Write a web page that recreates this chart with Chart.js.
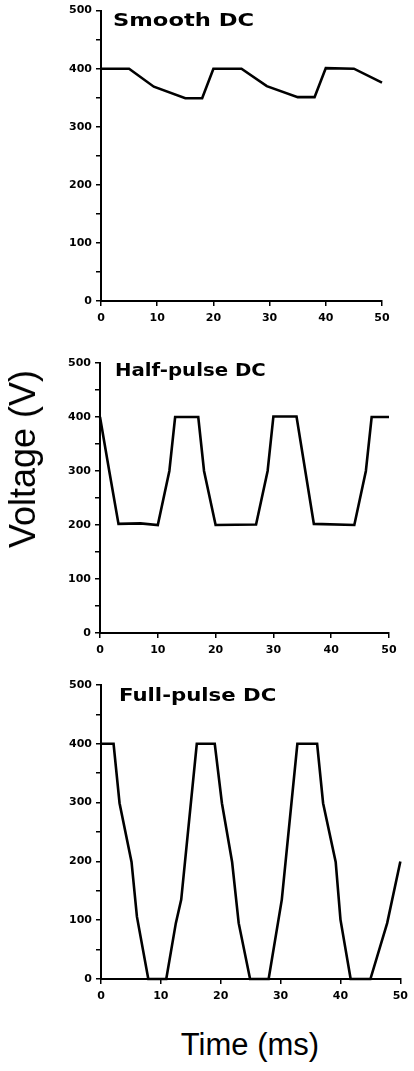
<!DOCTYPE html>
<html>
<head>
<meta charset="utf-8">
<script src="https://cdn.jsdelivr.net/npm/chart.js@4.4.1/dist/chart.umd.min.js"></script>
<style>
  body { margin: 0; background: #fff; width: 414px; height: 1071px; position: relative; overflow: hidden; }
  .panel { position: absolute; left: 0; width: 414px; }
  #ylab { position: absolute; left: 23px; top: 459px; transform: translate(-50%, -50%) rotate(-90deg);
          font: 36px "Liberation Sans", Arial, sans-serif; white-space: nowrap; color: #000; }
  #xlab { position: absolute; left: 250px; top: 1045px; transform: translate(-50%, -50%);
          font: 31px "Liberation Sans", Arial, sans-serif; white-space: nowrap; color: #000; }
</style>
</head>
<body>
<div class="panel" style="top:0;height:330px"><canvas id="chart-smooth"></canvas></div>
<div class="panel" style="top:330px;height:330px"><canvas id="chart-half"></canvas></div>
<div class="panel" style="top:660px;height:360px"><canvas id="chart-full"></canvas></div>
<div id="ylab">Voltage (V)</div>
<div id="xlab">Time (ms)</div>
<script>
// values: time in ms, voltage in V
var smoothTime = [0, 5, 9.4, 15, 18, 20, 25, 29.5, 35, 38, 40, 45, 50];
var smoothVolt = [400, 400, 369, 349, 349, 400, 400, 370, 351, 351, 401, 400, 376];

var halfTime = [0, 1.6, 3.2, 7, 10, 12, 13, 17, 18, 20, 27, 29, 30, 34, 37, 44, 46, 47, 50];
var halfVolt = [400, 300, 202, 203, 200, 300, 400, 400, 300, 200, 201, 300, 401, 401, 202, 200, 300, 400, 400];

var fullTime = [0, 2.1, 3.1, 5.1, 6, 7.9, 10.9, 12.5, 13.4, 16, 19, 20.2, 21.9, 23, 24.9, 28, 30.2, 32.8, 36.1, 37.1, 39.2, 40, 41.7, 45, 47.8, 50];
var fullVolt = [400, 400, 299, 199, 106, 0, 0, 95, 135, 400, 400, 299, 199, 95, 0, 0, 135, 400, 400, 299, 199, 101, 0, 0, 95, 200];

var timeTicks = [0, 10, 20, 30, 40, 50];
var voltTicks = [0, 100, 200, 300, 400, 500];

var titles = ['Smooth DC', 'Half-pulse DC', 'Full-pulse DC'];

var tickFont = { family: 'DejaVu Sans', weight: 'bold', size: 11 };

var toPoints = function (xs, ys) {
    var pts = [];
    for (var i = 0; i < xs.length; ++i) {
        pts.push({ x: xs[i], y: ys[i] });
    }
    return pts;
};

// panel title drawn inside the plot area, slightly stretched like the scan
var titlePlugin = {
    id: 'panelTitle',
    afterDraw: function (chart, args, opts) {
        var ctx = chart.ctx;
        var area = chart.chartArea;
        ctx.save();
        ctx.fillStyle = '#000';
        ctx.font = 'bold 17px "DejaVu Sans"';
        ctx.textBaseline = 'alphabetic';
        ctx.translate(area.left + opts.dx, area.top + opts.dy);
        ctx.scale(opts.sx, 1);
        ctx.fillText(opts.text, 0, 0);
        ctx.restore();
    }
};

var makeChart = function (id, xs, ys, title, box) {
    var ctx = document.getElementById(id);
    return new Chart(ctx, {
        type: 'line',
        data: {
            datasets: [{
                data: toPoints(xs, ys),
                borderColor: '#000',
                borderWidth: 2.6,
                pointRadius: 0,
                tension: 0,
                clip: false
            }]
        },
        options: {
            responsive: true,
            maintainAspectRatio: false,
            animation: false,
            events: [],
            layout: { padding: { top: box.top, right: box.right, left: 0, bottom: 0 } },
            plugins: {
                legend: { display: false },
                tooltip: { enabled: false },
                panelTitle: { text: title, dx: box.tx, dy: box.ty, sx: box.sx }
            },
            scales: {
                x: {
                    type: 'linear',
                    min: timeTicks[0],
                    max: timeTicks[timeTicks.length - 1],
                    afterBuildTicks: function (scale) {
                        scale.ticks = timeTicks.map(function (v) { return { value: v }; });
                    },
                    afterFit: function (scale) { scale.height = box.xh; },
                    border: { display: true, color: '#000', width: 2 },
                    grid: { drawOnChartArea: false, drawTicks: true, tickLength: 5, color: '#000', lineWidth: 1.5 },
                    ticks: { color: '#000', font: tickFont, padding: 6, maxRotation: 0 }
                },
                y: {
                    min: voltTicks[0],
                    max: voltTicks[voltTicks.length - 1],
                    afterFit: function (scale) { scale.width = box.yw; },
                    border: { display: true, color: '#000', width: 2 },
                    grid: { drawOnChartArea: false, drawTicks: true, tickLength: 5, color: '#000', lineWidth: 1.5 },
                    ticks: {
                        stepSize: 50,
                        color: '#000',
                        font: tickFont,
                        padding: 4,
                        callback: function (v) { return voltTicks.indexOf(v) >= 0 ? String(v) : ''; }
                    }
                }
            }
        },
        plugins: [titlePlugin]
    });
};

makeChart('chart-smooth', smoothTime, smoothVolt, titles[0], { top: 10, right: 32, yw: 101, xh: 29, tx: 12, ty: 15, sx: 1.33 });
makeChart('chart-half', halfTime, halfVolt, titles[1], { top: 33, right: 25, yw: 100, xh: 27, tx: 15, ty: 13, sx: 1.16 });
makeChart('chart-full', fullTime, fullVolt, titles[2], { top: 25, right: 11, yw: 101, xh: 41, tx: 18, ty: 16, sx: 1.25 });
</script>
</body>
</html>
